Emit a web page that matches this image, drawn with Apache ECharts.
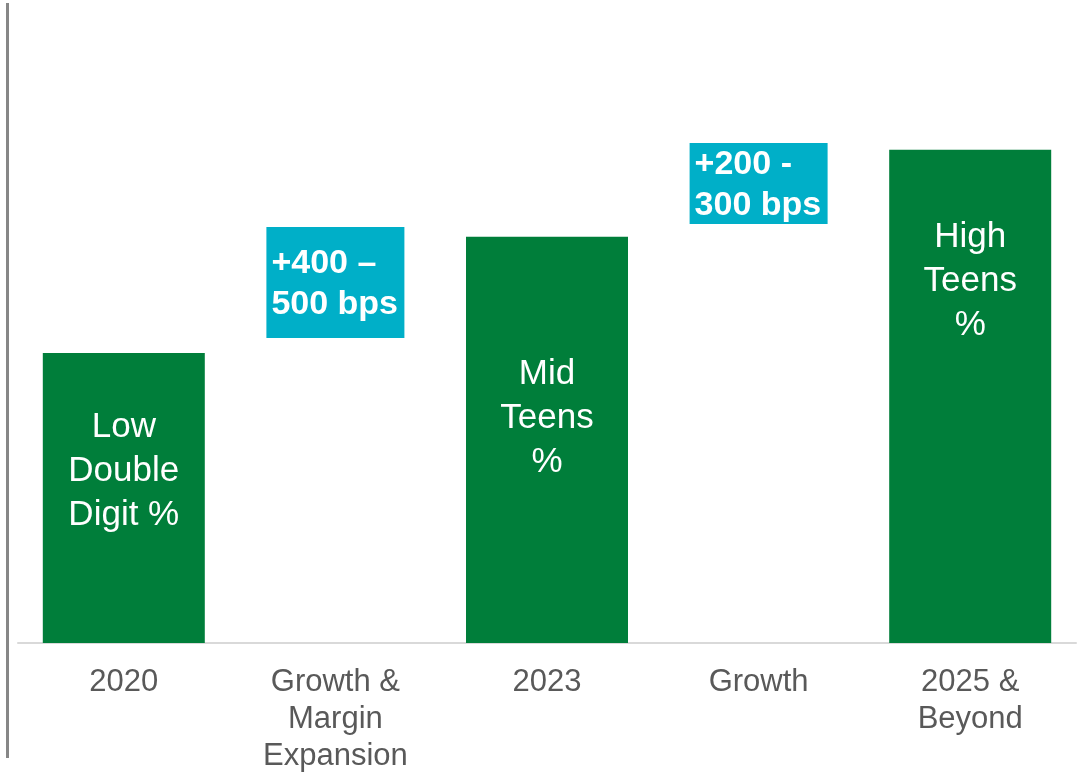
<!DOCTYPE html>
<html>
<head>
<meta charset="utf-8">
<script src="https://cdn.jsdelivr.net/npm/echarts@6/dist/echarts.min.js"></script>
<style>
html,body{margin:0;padding:0;background:#fff;}
#chart{width:1080px;height:772px;}
</style>
</head>
<body>
<div id="chart"></div>
<script>
const categories = ['2020', 'Growth &\nMargin\nExpansion', '2023', 'Growth', '2025 &\nBeyond'];
const levelValues = [11.0, '-', 15.4, '-', 18.7];
const levelLabels = ['Low\nDouble\nDigit %', '', 'Mid\nTeens\n%', '', 'High\nTeens\n%'];
const bridgeBase = ['-', 11.56, '-', 15.89, '-'];
const bridgeSize = ['-', 4.21, '-', 3.07, '-'];
const bridgeLabels = ['', '+400 \u2013\n500 bps', '', '+200 -\n300 bps', ''];

const labelDistances = [52, 0, 116, 0, 66];

const FONT = '"Liberation Sans", Arial, sans-serif';

const chart = echarts.init(document.getElementById('chart'), null, {renderer: 'canvas'});

const levelData = levelValues.map((v, i) => v === '-' ? '-' : {
  value: v,
  label: {distance: labelDistances[i]}
});

chart.setOption({
  animation: false,
  backgroundColor: '#ffffff',
  grid: {left: 18, right: 4, top: 10, bottom: 129, containLabel: false, outerBoundsMode: 'none'},
  xAxis: [{
    type: 'category',
    data: categories,
    axisLine: {show: true, lineStyle: {color: '#d9d9d9', width: 2}},
    axisTick: {show: false},
    axisLabel: {
      color: '#595959', fontSize: 31, lineHeight: 37, fontFamily: FONT,
      margin: 21, interval: 0
    }
  }, {
    type: 'category',
    data: categories,
    show: false
  }],
  yAxis: {
    type: 'value', min: 0, max: 24, show: false,
    splitLine: {show: false}
  },
  graphic: [{
    type: 'line',
    shape: {x1: 7.5, y1: 3, x2: 7.5, y2: 758},
    style: {stroke: '#878787', lineWidth: 3}
  }],
  series: [{
    type: 'bar',
    xAxisIndex: 0,
    barWidth: 162,
    data: levelData,
    itemStyle: {color: '#007e3a'},
    label: {
      show: true,
      position: 'insideTop',
      color: '#ffffff',
      fontSize: 35,
      lineHeight: 44,
      fontFamily: FONT,
      align: 'center',
      formatter: p => levelLabels[p.dataIndex]
    }
  }, {
    type: 'bar',
    xAxisIndex: 1,
    stack: 'bridge',
    barWidth: 138,
    data: bridgeBase,
    itemStyle: {color: 'transparent'},
    silent: true
  }, {
    type: 'bar',
    xAxisIndex: 1,
    stack: 'bridge',
    barWidth: 138,
    data: bridgeSize,
    itemStyle: {color: '#00afc8'},
    label: {
      show: true,
      position: 'insideLeft',
      distance: 5,
      offset: [0, 2],
      color: '#ffffff',
      fontSize: 34,
      fontWeight: 'bold',
      lineHeight: 41,
      fontFamily: FONT,
      align: 'left',
      formatter: p => bridgeLabels[p.dataIndex]
    }
  }]
});
</script>
</body>
</html>
